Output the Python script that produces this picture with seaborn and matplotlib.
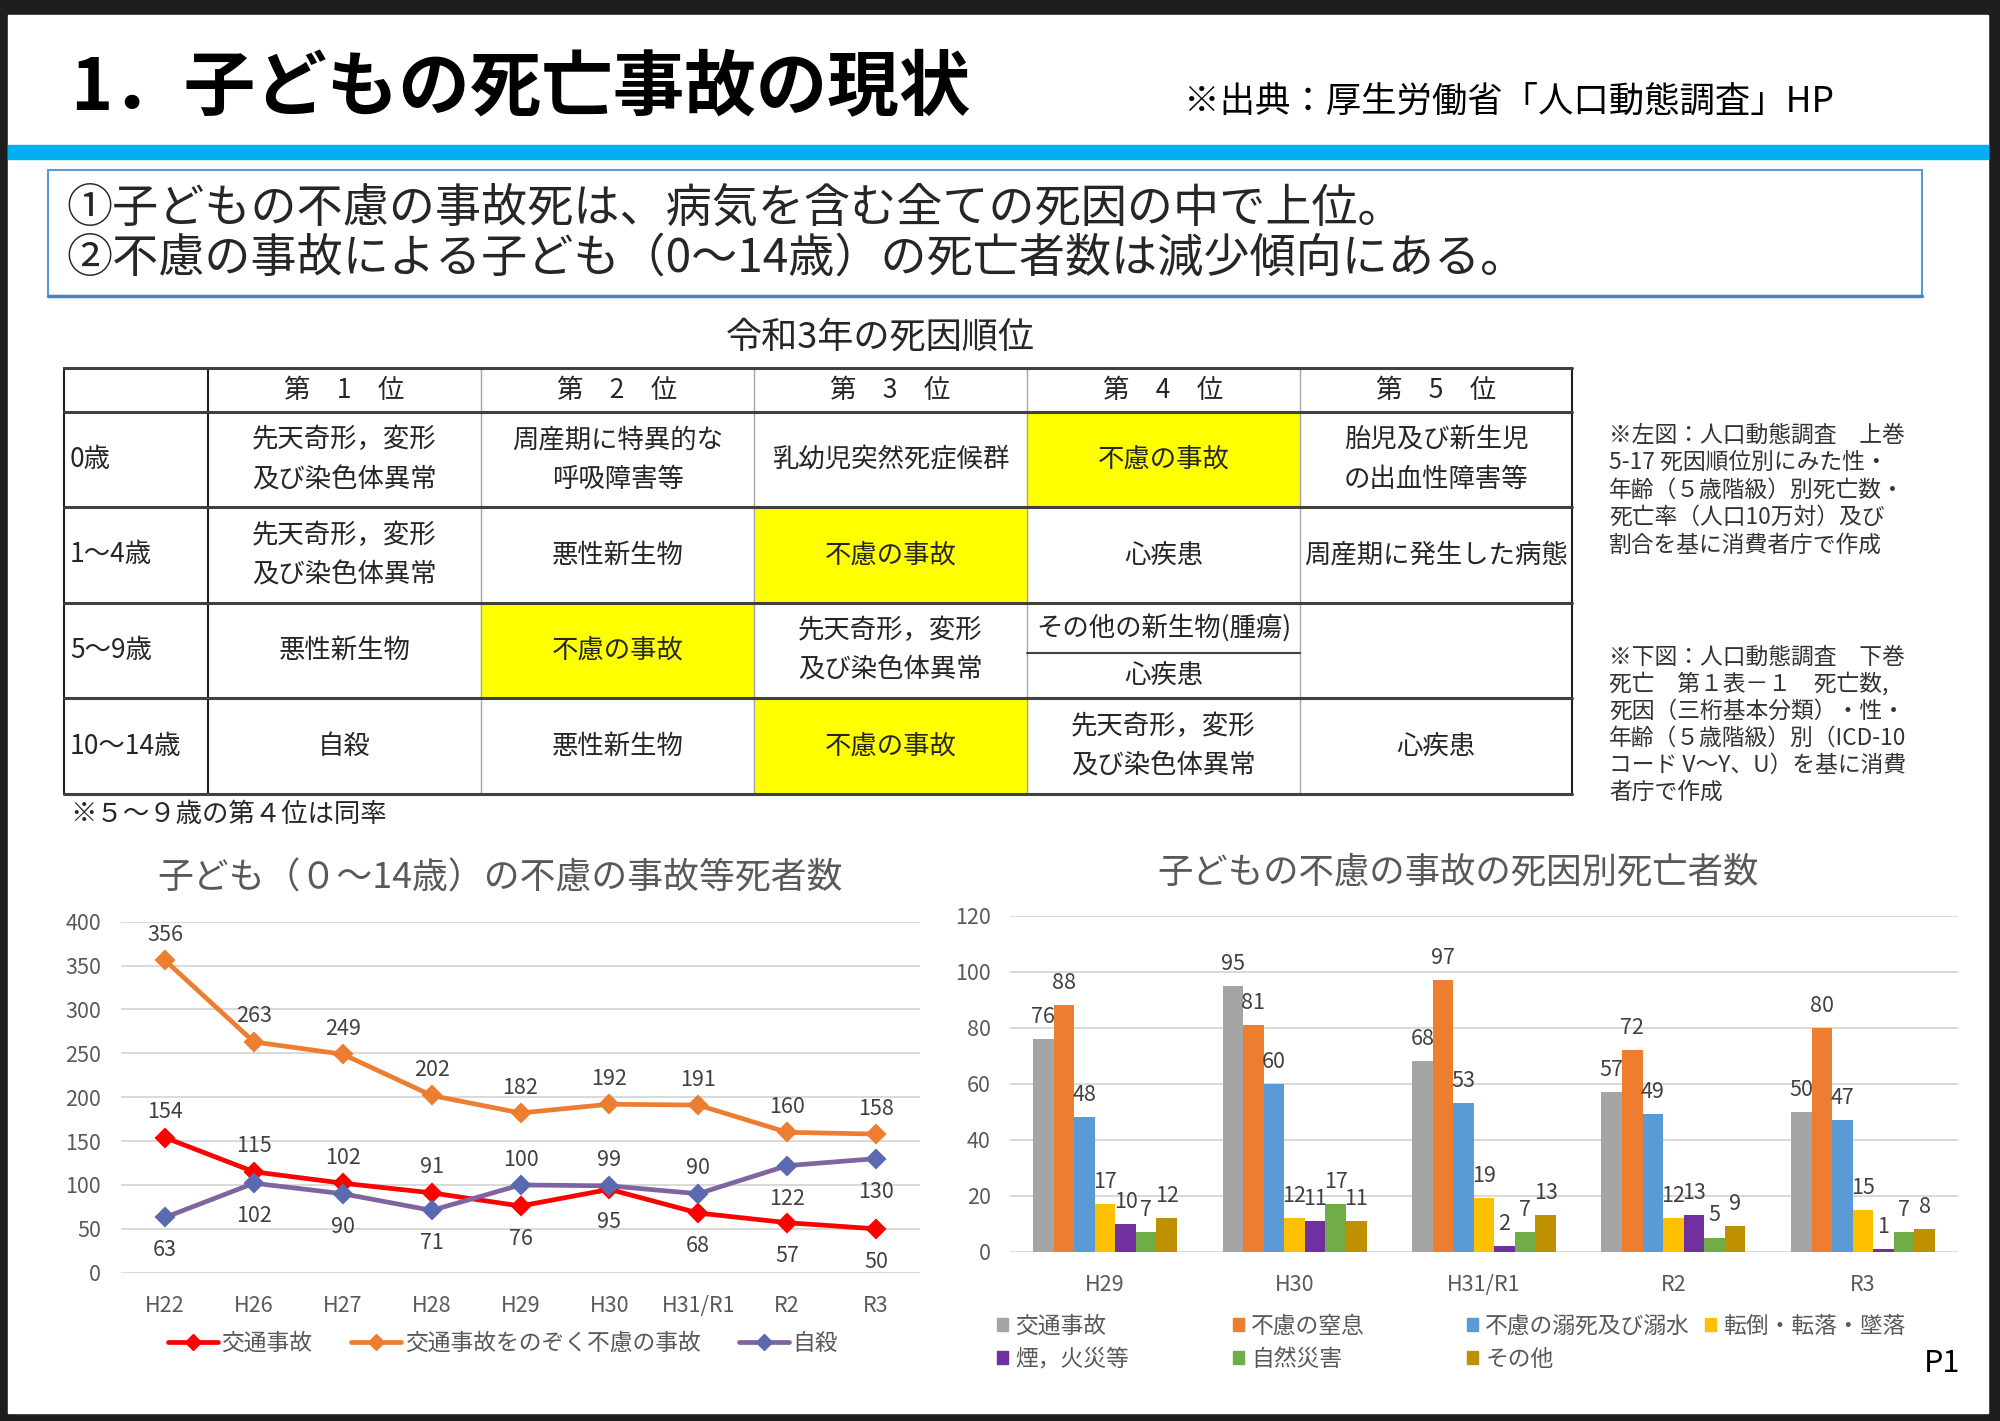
import numpy as np
import pandas as pd
import matplotlib
matplotlib.use('Agg')
import matplotlib.pyplot as plt
from matplotlib.patches import Rectangle
from matplotlib.lines import Line2D
import seaborn as sns

# line chart data
years = ['H22', 'H26', 'H27', 'H28', 'H29', 'H30', 'H31/R1', 'R2', 'R3']
traffic = [154, 115, 102, 91, 76, 95, 68, 57, 50]
other_accidents = [356, 263, 249, 202, 182, 192, 191, 160, 158]
suicide = [63, 102, 90, 71, 100, 99, 90, 122, 130]
line_series = ['交通事故', '交通事故をのぞく不慮の事故', '自殺']

# which side of the point the value label sits (1 above, -1 below)
traffic_side = [1, 1, 1, 1, -1, -1, -1, -1, -1]
other_side = [1, 1, 1, 1, 1, 1, 1, 1, 1]
suicide_side = [-1, -1, -1, -1, 1, 1, 1, -1, -1]

# bar chart data
bar_years = ['H29', 'H30', 'H31/R1', 'R2', 'R3']
causes = ['交通事故', '不慮の窒息', '不慮の溺死及び溺水', '転倒・転落・墜落',
          '煙，火災等', '自然災害', 'その他']
bar_traffic = [76, 95, 68, 57, 50]
bar_suffocation = [88, 81, 97, 72, 80]
bar_drowning = [48, 60, 53, 49, 47]
bar_falls = [17, 12, 19, 12, 15]
bar_fire = [10, 11, 2, 13, 1]
bar_disaster = [7, 17, 7, 5, 7]
bar_other = [12, 11, 13, 9, 8]

# ranking table
rank_headers = ['第　1　位', '第　2　位', '第　3　位', '第　4　位', '第　5　位']
age_groups = ['0歳', '1～4歳', '5～9歳', '10～14歳']
rank_table = [
    ['先天奇形，変形\n及び染色体異常', '周産期に特異的な\n呼吸障害等', '乳幼児突然死症候群',
     '不慮の事故', '胎児及び新生児\nの出血性障害等'],
    ['先天奇形，変形\n及び染色体異常', '悪性新生物', '不慮の事故', '心疾患', '周産期に発生した病態'],
    ['悪性新生物', '不慮の事故', '先天奇形，変形\n及び染色体異常',
     ['その他の新生物(腫瘍)', '心疾患'], ''],
    ['自殺', '悪性新生物', '不慮の事故', '先天奇形，変形\n及び染色体異常', '心疾患'],
]
highlight = '不慮の事故'

note_left = ['※左図：人口動態調査　上巻', '5-17 死因順位別にみた性・', '年齢（５歳階級）別死亡数・',
             '死亡率（人口10万対）及び', '割合を基に消費者庁で作成']
note_below = ['※下図：人口動態調査　下巻', '死亡　第１表－１　死亡数,', '死因（三桁基本分類）・性・',
              '年齢（５歳階級）別（ICD-10', 'コード V～Y、U）を基に消費', '者庁で作成']

line_colors = ['#FF0000', '#ED7D31', '#8064A2']
bar_colors = ['#A5A5A5', '#ED7D31', '#5B9BD5', '#FFC000', '#7030A0', '#70AD47', '#BF9000']

sns.set_theme(style='white')
plt.rcParams['font.family'] = ['Noto Sans CJK JP', 'DejaVu Sans']

W, H = 2000, 1421
fig = plt.figure(figsize=(20, 14.21), dpi=100)


def px_axes(x0, y0, x1, y1):
    return [x0 / W, 1 - y1 / H, (x1 - x0) / W, (y1 - y0) / H]


# background / slide furniture in pixel coordinates
bg = fig.add_axes([0, 0, 1, 1], zorder=0)
bg.set_xlim(0, W)
bg.set_ylim(H, 0)
bg.axis('off')
bg.add_patch(Rectangle((0, 0), W, H, color='#1E1E1E'))
bg.add_patch(Rectangle((8, 15), 1980, 1398, color='white'))
bg.add_patch(Rectangle((8, 145), 1980, 14, color='#00B0F0'))

bg.text(70, 88, '1．子どもの死亡事故の現状', fontsize=51.5, fontweight='bold', va='center', color='black')
bg.text(1184, 102, '※出典：厚生労働省「人口動態調査」HP', fontsize=25.5, va='center', color='black')

bg.add_patch(Rectangle((48, 170), 1874, 126, fill=False, edgecolor='#5B9BD5', lw=1.5))
bg.plot([48, 1922], [296, 296], color='#4F81BD', lw=2.5)
bg.text(66, 208, '①子どもの不慮の事故死は、病気を含む全ての死因の中で上位。', fontsize=33.2, va='center')
bg.text(66, 258, '②不慮の事故による子ども（0～14歳）の死亡者数は減少傾向にある。', fontsize=33.2, va='center')

# table
col_x = [64, 208, 481, 754, 1027, 1300, 1572]
row_y = [368, 412, 507, 603, 698, 794]
bg.text(880, 338, '令和3年の死因順位', fontsize=26, ha='center', va='center')


def cell_text(x, y, s, ha='center'):
    lines = s.split('\n')
    if len(lines) == 1:
        bg.text(x, y, s, fontsize=19, ha=ha, va='center')
    else:
        bg.text(x, y - 20, lines[0], fontsize=19, ha=ha, va='center')
        bg.text(x, y + 20, lines[1], fontsize=19, ha=ha, va='center')


for j, h in enumerate(rank_headers):
    cell_text((col_x[j + 1] + col_x[j + 2]) / 2, (row_y[0] + row_y[1]) / 2, h)

for i, age in enumerate(age_groups):
    y0, y1 = row_y[i + 1], row_y[i + 2]
    yc = (y0 + y1) / 2
    cell_text(col_x[0] + 6, yc, age, ha='left')
    for j, c in enumerate(rank_table[i]):
        x0, x1 = col_x[j + 1], col_x[j + 2]
        xc = (x0 + x1) / 2
        if isinstance(c, list):
            ym = (y0 + y1) / 2 + 2
            cell_text(xc, (y0 + ym) / 2, c[0])
            cell_text(xc, (ym + y1) / 2, c[1])
            bg.plot([x0, x1], [ym, ym], color='#404040', lw=1.5, zorder=3)
            continue
        if c == highlight:
            bg.add_patch(Rectangle((x0, y0), x1 - x0, y1 - y0, color='#FFFF00', zorder=1))
        if c:
            cell_text(xc, yc, c)

for k, x in enumerate(col_x):
    if k in (0, 1, len(col_x) - 1):
        bg.plot([x, x], [row_y[0], row_y[-1]], color='#202020', lw=1.5, zorder=3)
    else:
        bg.plot([x, x], [row_y[0], row_y[-1]], color='#A6A6A6', lw=1, zorder=2)
for y in row_y:
    bg.plot([col_x[0], col_x[-1]], [y, y], color='#404040', lw=2.2, zorder=3)

bg.text(70, 814, '※５～９歳の第４位は同率', fontsize=19, va='center')

for k, s in enumerate(note_left):
    bg.text(1609, 435 + k * 27.5, s, fontsize=16.4, va='center', color='#333333')
for k, s in enumerate(note_below):
    bg.text(1609, 657 + k * 27, s, fontsize=16.4, va='center', color='#333333')

bg.text(1942, 1364, 'P1', fontsize=22, ha='center', va='center', color='black')

# left chart: line chart
df_line = pd.DataFrame({
    '年': years * 3,
    '死者数': traffic + other_accidents + suicide,
    '種別': np.repeat(line_series, len(years)),
})
ax1 = fig.add_axes(px_axes(120.6, 921.7, 920.4, 1272.7), zorder=1)
ax1.set_facecolor('none')
sns.pointplot(data=df_line, x='年', y='死者数', hue='種別', order=years, hue_order=line_series,
              palette=line_colors, markers='D', errorbar=None, linewidth=3.4, markersize=8.5,
              legend=False, ax=ax1)
ax1.lines[2].set_markerfacecolor('#5B6AB0')
ax1.lines[2].set_markeredgecolor('#5B6AB0')
ax1.set_ylim(0, 400)
ax1.set_yticks(range(0, 401, 50))
ax1.set_xlim(-0.5, len(years) - 0.5)
ax1.yaxis.grid(True, color='#D9D9D9', lw=1.4)
ax1.xaxis.grid(False)
ax1.set_axisbelow(True)
sns.despine(ax=ax1, left=True, bottom=True)
ax1.tick_params(axis='both', length=0, labelsize=15.5, labelcolor='#595959')
ax1.tick_params(axis='y', pad=14)
ax1.tick_params(axis='x', pad=16)
ax1.set_xlabel('')
ax1.set_ylabel('')

for vals, sides in [(traffic, traffic_side), (other_accidents, other_side), (suicide, suicide_side)]:
    for i, (v, s) in enumerate(zip(vals, sides)):
        ax1.annotate(str(v), xy=(i, v), xytext=(0, 14 if s > 0 else -28), textcoords='offset points',
                     ha='center', va='baseline', fontsize=15.5, color='#404040')

fig.text(500 / W, 1 - 878 / H, '子ども（０～14歳）の不慮の事故等死者数', fontsize=25.8,
         ha='center', va='center', color='#595959')

line_handles = [Line2D([], [], color=line_colors[0], lw=3.4, marker='D', ms=8.5),
                Line2D([], [], color=line_colors[1], lw=3.4, marker='D', ms=8.5),
                Line2D([], [], color=line_colors[2], lw=3.4, marker='D', ms=8.5,
                       markerfacecolor='#5B6AB0', markeredgecolor='#5B6AB0')]
fig.legend(line_handles, line_series, loc='center', bbox_to_anchor=(503 / W, 1 - 1343 / H), ncol=3,
           frameon=False, handlelength=2.2, handletextpad=0.15, columnspacing=1.7,
           fontsize=16.4, labelcolor='#595959')

# right chart: grouped bars
bar_values = [bar_traffic, bar_suffocation, bar_drowning, bar_falls, bar_fire, bar_disaster, bar_other]
df_bar = pd.DataFrame({
    '年': np.tile(bar_years, len(causes)),
    '死者数': np.concatenate(bar_values),
    '死因': np.repeat(causes, len(bar_years)),
})
ax2 = fig.add_axes(px_axes(1010.3, 915.8, 1957.7, 1251.6), zorder=1)
ax2.set_facecolor('none')
sns.barplot(data=df_bar, x='年', y='死者数', hue='死因', order=bar_years, hue_order=causes,
            palette=bar_colors, width=0.76, errorbar=None, saturation=1, linewidth=0,
            legend=False, ax=ax2)
for cont in ax2.containers:
    ax2.bar_label(cont, fmt='%d', padding=8, fontsize=15.5, color='#404040')
ax2.set_ylim(0, 120)
ax2.set_yticks(range(0, 121, 20))
ax2.set_xlim(-0.5, len(bar_years) - 0.5)
ax2.yaxis.grid(True, color='#D9D9D9', lw=1.4)
ax2.xaxis.grid(False)
ax2.set_axisbelow(True)
sns.despine(ax=ax2, left=True, bottom=True)
ax2.tick_params(axis='both', length=0, labelsize=15.5, labelcolor='#595959')
ax2.tick_params(axis='y', pad=14)
ax2.tick_params(axis='x', pad=16)
ax2.set_xlabel('')
ax2.set_ylabel('')

fig.text(1458 / W, 1 - 872 / H, '子どもの不慮の事故の死因別死亡者数', fontsize=25.5,
         ha='center', va='center', color='#595959')

# legend in four columns placed like the original
bar_handles = [Rectangle((0, 0), 1, 1, color=c) for c in bar_colors]
col_left = [997, 1233, 1467, 1705]
for k, x in enumerate(col_left):
    idx = [k, k + 4] if k + 4 < len(causes) else [k]
    fig.legend([bar_handles[i] for i in idx], [causes[i] for i in idx], loc='upper left',
               bbox_to_anchor=(x / W, 1 - 1315 / H), frameon=False, borderpad=0, borderaxespad=0,
               handlelength=0.5, handleheight=0.5, handletextpad=0.3, labelspacing=0.43,
               fontsize=16.4, labelcolor='#595959')

fig.savefig('out.png', dpi=100)
